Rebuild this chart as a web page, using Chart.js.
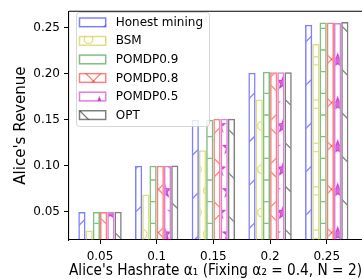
<!DOCTYPE html>
<html>
<head>
<meta charset="utf-8">
<script src="https://cdn.jsdelivr.net/npm/chart.js@4.4.1/dist/chart.umd.min.js"></script>
<style>
html,body{margin:0;padding:0;background:#fff;}
#wrap{width:362px;height:279px;position:relative;}
</style>
</head>
<body>
<div id="wrap"><canvas id="c"></canvas></div>
<script>
// data
var hashrates=[0.05,0.1,0.15,0.2,0.25]
var xTickLabels=['0.05','0.1','0.15','0.2','0.25']
var yTicks=[0.05,0.10,0.15,0.20,0.25]
var seriesNames=['Honest mining','BSM','POMDP0.9','POMDP0.8','POMDP0.5','OPT']
var honest=[0.05,0.1,0.15,0.201,0.253]
var bsm=[0.030,0.069,0.117,0.172,0.232]
var pomdp09=[0.05,0.1,0.15,0.202,0.2555]
var pomdp08=[0.05,0.1,0.151,0.2015,0.2555]
var pomdp05=[0.05,0.1,0.151,0.2015,0.2548]
var opt=[0.0502,0.1005,0.151,0.2015,0.256]

// hatch tiles, anchored to the canvas like matplotlib hatches
var TILE=130, STEP=TILE/6
function hatchPattern(kind,rgb){
    var c=document.createElement('canvas')
    c.width=TILE; c.height=TILE
    var g=c.getContext('2d')
    g.strokeStyle='rgba('+rgb+',0.5)'
    g.fillStyle='rgba('+rgb+',0.6)'
    g.lineWidth=1.3
    var k,r
    if(kind=='/'||kind=='x'){
        for(k=-2;k<=8;k++){
            var c1=1+k*TILE/3
            g.beginPath(); g.moveTo(-10,c1+10); g.lineTo(TILE+10,c1-TILE-10); g.stroke()
        }
    }
    if(kind=='\\'||kind=='x'){
        for(k=-5;k<=5;k++){
            var c2=31+k*TILE/3
            g.beginPath(); g.moveTo(-10,c2-10); g.lineTo(TILE+10,c2+TILE+10); g.stroke()
        }
    }
    if(kind=='-'){
        for(k=-1;k<=6;k++){
            var yy=6.67+k*STEP
            g.beginPath(); g.moveTo(0,yy); g.lineTo(TILE,yy); g.stroke()
        }
    }
    if(kind=='o'||kind=='*'){
        for(r=-2;r<=7;r++){
            var y=17.5+r*STEP
            var x0=12.7+((r%2+2)%2)*STEP/2
            for(k=-2;k<=7;k++){
                var x=x0+k*STEP
                if(kind=='o'){
                    g.beginPath(); g.arc(x,y,4.3,0,Math.PI*2); g.stroke()
                }else{
                    g.beginPath()
                    for(var p=0;p<10;p++){
                        var rad=p%2==0?7:3
                        var a=-Math.PI/2+p*Math.PI/5
                        g.lineTo(x+rad*Math.cos(a),y+rad*Math.sin(a))
                    }
                    g.closePath(); g.fill(); g.stroke()
                }
            }
        }
    }
    return g.createPattern(c,'repeat')
}

var styles=[
    {rgb:'0,0,255',hatch:'/'},
    {rgb:'191,191,0',hatch:'o'},
    {rgb:'0,128,0',hatch:'-'},
    {rgb:'255,0,0',hatch:'x'},
    {rgb:'191,0,191',hatch:'*'},
    {rgb:'0,0,0',hatch:'\\'}
]
var series=[honest,bsm,pomdp09,pomdp08,pomdp05,opt]

var datasets=series.map(function(vals,i){
    return {
        label:seriesNames[i],
        data:vals.map(function(v,j){return {x:hashrates[j],y:v}}),
        backgroundColor:hatchPattern(styles[i].hatch,styles[i].rgb),
        borderColor:'rgba('+styles[i].rgb+',0.5)',
        borderWidth:1.5,
        borderSkipped:'start',
        categoryPercentage:0.766,
        barPercentage:1.0
    }
})

// legend drawn inside the axes, over the bars
var boxLegend={
    id:'boxLegend',
    afterDatasetsDraw:function(chart){
        var ctx=chart.ctx
        ctx.save()
        ctx.beginPath()
        ctx.roundRect(76.5,12.5,133,114,3)
        ctx.fillStyle='rgba(255,255,255,0.8)'
        ctx.fill()
        ctx.strokeStyle='rgba(204,204,204,0.8)'
        ctx.lineWidth=1
        ctx.stroke()
        chart.data.datasets.forEach(function(ds,i){
            var y=22.3+i*18.55
            ctx.fillStyle='#fff'
            ctx.fillRect(79.5,y-4.3,26.2,8.7)
            ctx.fillStyle=ds.backgroundColor
            ctx.fillRect(79.5,y-4.3,26.2,8.7)
            ctx.strokeStyle=ds.borderColor
            ctx.lineWidth=1.5
            ctx.strokeRect(79.5,y-4.3,26.2,8.7)
            ctx.fillStyle='#000'
            ctx.font='12px "DejaVu Sans"'
            ctx.textBaseline='middle'
            ctx.textAlign='left'
            ctx.fillText(ds.label,115.7,y+0.5)
        })
        ctx.restore()
    },
    afterDraw:function(chart){
        var a=chart.chartArea, ctx=chart.ctx
        ctx.save()
        ctx.strokeStyle='#000'
        ctx.lineWidth=1.1
        ctx.beginPath(); ctx.moveTo(a.left,a.top); ctx.lineTo(a.right,a.top); ctx.stroke()
        ctx.restore()
    }
}

Chart.defaults.font.family='"DejaVu Sans"'
Chart.defaults.color='#000'

new Chart(document.getElementById('c'),{
    type:'bar',
    data:{datasets:datasets},
    options:{
        animation:false,
        responsive:true,
        maintainAspectRatio:false,
        devicePixelRatio:1,
        layout:{padding:{top:6,right:0,left:0,bottom:0}},
        plugins:{legend:{display:false},tooltip:{enabled:false}},
        scales:{
            x:{
                type:'linear',min:0.02265,max:0.2811,offset:false,
                afterBuildTicks:function(s){s.ticks=hashrates.map(function(v){return {value:v}})},
                afterFit:function(s){s.height=39},
                ticks:{font:{size:12},color:'#000',padding:6,maxRotation:0,autoSkip:false,
                    callback:function(v){return xTickLabels[hashrates.indexOf(v)]}},
                grid:{display:true,offset:false,drawOnChartArea:false,drawTicks:true,tickLength:4,color:'#000'},
                border:{display:true,color:'#000',width:1.1},
                title:{display:true,text:"Alice's Hashrate α\u2081 (Fixing α\u2082 = 0.4, N = 2)",align:'start',
                    font:{size:15,lineHeight:1.0},color:'#000',padding:{top:0,bottom:0}}
            },
            y:{
                min:0.0196,max:0.2677,
                afterBuildTicks:function(s){s.ticks=yTicks.map(function(v){return {value:v}})},
                afterFit:function(s){s.width=69},
                ticks:{font:{size:12},color:'#000',padding:4,callback:function(v){return v.toFixed(2)}},
                grid:{display:true,drawOnChartArea:false,drawTicks:true,tickLength:5,color:'#000'},
                border:{display:true,color:'#000',width:1.1},
                title:{display:true,text:"Alice's Revenue",font:{size:15},color:'#000',padding:{top:12.5,bottom:0}}
            }
        }
    },
    plugins:[boxLegend]
})
</script>
</body>
</html>
